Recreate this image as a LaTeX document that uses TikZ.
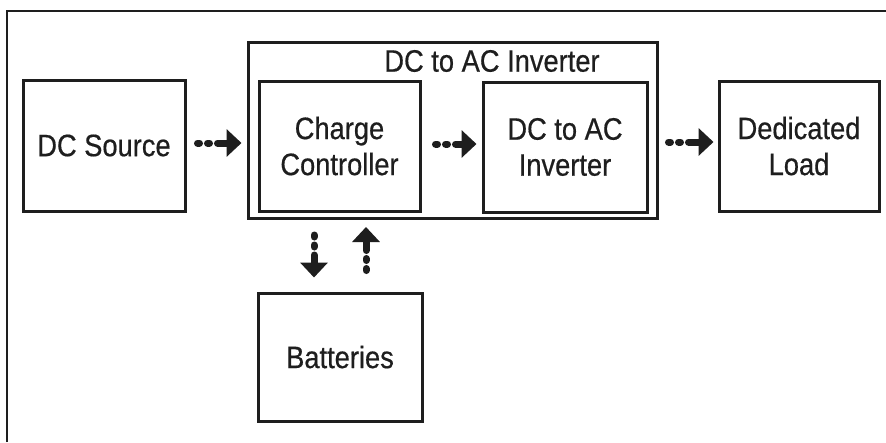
\documentclass[tikz,border=0pt]{standalone}
\usepackage{fontspec}
\setmainfont{Liberation Sans}[FakeStretch=0.88,FakeBold=0.5]
\usetikzlibrary{arrows.meta}
\definecolor{ink}{HTML}{1E1E1E}
\tikzset{
  box/.style={draw=ink, line width=3pt, rectangle, inner sep=0pt, text=ink,
              align=center, font=\fontsize{31}{36}\selectfont},
  arr/.style={draw=ink, line width=7pt, line cap=round,
              dash pattern=on 2pt off 8pt on 2pt off 8pt on 300pt,
              -{Triangle[length=15pt,width=27pt]}},
  lbl/.style={text=ink, inner sep=0pt, font=\fontsize{31}{36}\selectfont}
}
\begin{document}
\begin{tikzpicture}[x=1pt,y=-1pt]
\useasboundingbox (0,0) rectangle (886,442);
\fill[white] (0,0) rectangle (886,442);
% outer frame (left and top edges only visible)
\coordinate (fbl) at (7,442);
\coordinate (ftl) at (7,11);
\coordinate (ftr) at (886,11);
\draw[ink, line width=2.2pt] (fbl) -- (ftl) -- (ftr);

\node[box, minimum width=409pt, minimum height=176pt] (inv) at (452.5,130) {};
\node[lbl] (title) at (492,61) {DC to AC Inverter};

\node[box, minimum width=162pt, minimum height=131pt] (src) at (104,145.5) {DC Source};
\node[box, minimum width=161pt, minimum height=130pt] (cc) at (339.5,146) {Charge\\Controller};
\node[box, minimum width=164pt, minimum height=130pt] (dcac) at (565,147) {DC to AC\\Inverter};
\node[box, minimum width=160pt, minimum height=130pt] (load) at (799,146) {Dedicated\\Load};
\node[box, minimum width=164pt, minimum height=128pt] (bat) at (340,357) {Batteries};

% horizontal connectors
\draw[arr, shorten <=11pt, shorten >=5pt] ([yshift=2.5pt]src.east) -- ([yshift=2.5pt]src.east -| inv.west);
\draw[arr, shorten <=14pt, shorten >=5pt] ([yshift=2pt]cc.east) -- ([yshift=2pt]cc.east -| dcac.west);
\draw[arr, shorten <=10pt, shorten >=4pt] ([yshift=4pt]inv.east |- load.west) -- ([yshift=4pt]load.west);

% vertical connectors
\coordinate (dtop) at (314,218);
\coordinate (utop) at (366,218);
\draw[arr, shorten <=17pt, shorten >=14pt] (dtop) -- (bat.north -| dtop);
\draw[arr, shorten <=21pt, shorten >=9pt] (bat.north -| utop) -- (utop);
\end{tikzpicture}
\end{document}
